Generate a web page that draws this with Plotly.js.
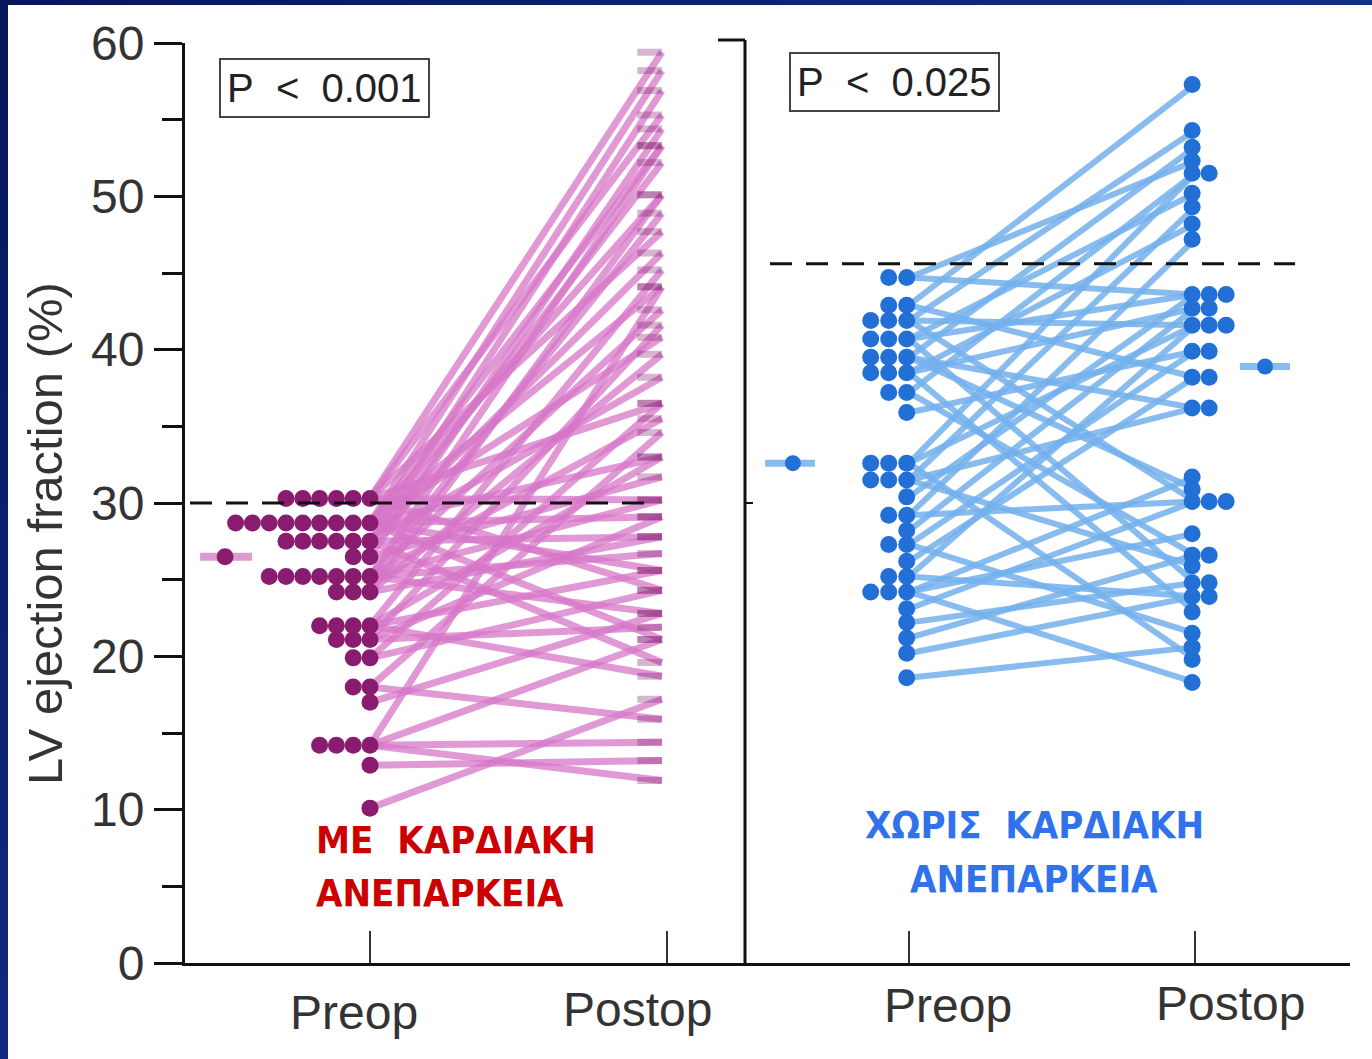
<!DOCTYPE html>
<html><head><meta charset="utf-8">
<script src="https://cdn.plot.ly/plotly-3.0.1.min.js"></script>
<style>
html,body{margin:0;padding:0;width:1372px;height:1059px;overflow:hidden;background:linear-gradient(135deg,#06165a 0%,#12308c 60%,#1b3fa6 100%);}
#chart{position:absolute;left:8px;top:5px;width:1364px;height:1054px;background:#fff;}
</style></head><body><div id="chart"></div>
<script>
// ---------------- data ----------------
const xLabels = ['Preop', 'Postop'];
const yTitle = 'LV ejection fraction (%)';
const yTicks = [0, 10, 20, 30, 40, 50, 60];

// left panel: with heart failure (each index = one patient)
const leftPre = [30.3,30.3,30.3,30.3,30.3,30.3,
  28.7,28.7,28.7,28.7,28.7,28.7,28.7,28.7,28.7,
  27.5,27.5,27.5,27.5,27.5,27.5,
  26.5,26.5,
  25.2,25.2,25.2,25.2,25.2,25.2,25.2,
  24.2,24.2,24.2,
  22.0,22.0,22.0,22.0,
  21.1,21.1,21.1,
  19.9,19.9,
  18.0,18.0,
  17.0,
  14.2,14.2,14.2,14.2,
  12.9,
  10.1];
const leftPost = [59.4,55.3,47.7,36.5,30.2,24.3,
  58.2,53.3,50.1,44.1,40.8,33.0,29.1,25.6,21.1,
  56.9,52.2,46.3,38.2,27.8,19.6,
  54.4,31.7,
  53.3,48.9,42.6,35.5,30.2,26.7,22.8,
  50.1,39.7,27.8,
  45.2,33.0,25.6,18.7,
  41.6,29.1,21.9,
  36.5,24.3,
  34.6,15.9,
  22.8,
  44.1,21.1,14.4,11.9,
  13.2,
  17.2];
const leftMeanPre = 26.5;
const leftThreshold = 30;
const leftP = 'P < 0.001';
const leftGroup = ['ΜΕ  ΚΑΡΔΙΑΚΗ', 'ΑΝΕΠΑΡΚΕΙΑ'];

// right panel: without heart failure
const rightPre = [44.7,44.7,42.9,42.9,41.9,41.9,41.9,40.7,40.7,40.7,39.5,39.5,39.5,38.5,38.5,38.5,37.2,37.2,35.9,
  32.6,32.6,32.6,31.5,31.5,31.5,30.4,29.2,29.2,28.2,27.3,27.3,26.2,25.2,25.2,24.2,24.2,24.2,23.1,22.2,21.2,20.2,18.6];
const rightPost = [52.3,43.6,57.3,38.2,54.3,41.6,30.1,50.2,43.6,24.8,53.2,36.2,30.9,48.2,42.7,22.9,51.5,26.6,39.9,
  51.5,41.6,19.8,49.3,36.2,25.9,43.6,47.2,30.1,42.7,39.9,21.5,38.2,41.6,23.9,31.7,28.0,18.3,30.1,24.8,26.6,23.9,20.6];
const rightMeanPre = 32.6;
const rightMeanPost = 38.9;
const rightThreshold = 45.6;
const rightP = 'P < 0.025';
const rightGroup = ['ΧΩΡΙΣ  ΚΑΡΔΙΑΚΗ', 'ΑΝΕΠΑΡΚΕΙΑ'];

// ---------------- geometry ----------------
const PLOT_W = 1165, PLOT_H = 920;
const SPLIT = 560 / PLOT_W;
const L_PX = 297, R_PX = 286;            // px per category step
const L_RANGE = [-185 / L_PX, 375 / L_PX];
const R_RANGE = [-164 / R_PX, 441 / R_PX];
const DOT = 17;
const LEFT_END = 0.983, LEFT_FADE = 0.90;

const C_LDOT = 'rgb(138,28,112)', C_LLINE = 'rgba(214,118,200,0.74)', C_LEND = 'rgba(128,30,108,0.33)';
const C_RDOT = 'rgb(34,112,214)', C_RLINE = 'rgba(115,176,236,0.85)';

function segs(pre, post, x0, x1) {
  const x = [], y = [];
  pre.forEach((v, i) => { x.push(x0, x1, null); y.push(v, post[i], null); });
  return {x, y};
}
function dots(values, base, step, dir) {
  const counts = {}, x = [], y = [];
  values.forEach(v => {
    const k = v.toFixed(1); const n = counts[k] || 0; counts[k] = n + 1;
    x.push(base + dir * n * step); y.push(v);
  });
  return {x, y};
}

const traces = [];
// left lines
const ll = segs(leftPre, leftPost, 0, LEFT_END);
traces.push({x: ll.x, y: ll.y, mode: 'lines', line: {color: C_LLINE, width: 7}, xaxis: 'x', yaxis: 'y'});
const le = segs(leftPost, leftPost, LEFT_FADE, LEFT_END);
traces.push({x: le.x, y: le.y, mode: 'lines', line: {color: C_LEND, width: 7}, xaxis: 'x', yaxis: 'y'});
// left dots
const ld = dots(leftPre, 0, 16.8 / L_PX, -1);
traces.push({x: ld.x, y: ld.y, mode: 'markers', marker: {color: C_LDOT, size: DOT, line: {width: 0}}, xaxis: 'x', yaxis: 'y'});
// left threshold
traces.push({x: [-0.606, 0.96], y: [leftThreshold, leftThreshold], mode: 'lines', line: {color: '#111', width: 3, dash: '22px,14px'}, xaxis: 'x', yaxis: 'y'});
// left mean
traces.push({x: [-0.572, -0.397], y: [leftMeanPre, leftMeanPre], mode: 'lines', line: {color: 'rgba(214,130,200,0.8)', width: 8}, xaxis: 'x', yaxis: 'y'});
traces.push({x: [-0.488], y: [leftMeanPre], mode: 'markers', marker: {color: C_LDOT, size: DOT, line: {width: 0}}, xaxis: 'x', yaxis: 'y'});

// right lines
const rl = segs(rightPre, rightPost, 0, 1);
traces.push({x: rl.x, y: rl.y, mode: 'lines', line: {color: C_RLINE, width: 6}, xaxis: 'x2', yaxis: 'y'});
// right threshold
traces.push({x: [-0.486, 1.35], y: [rightThreshold, rightThreshold], mode: 'lines', line: {color: '#111', width: 3, dash: '22px,14px'}, xaxis: 'x2', yaxis: 'y'});
// right dots
const rd1 = dots(rightPre, -0.008, 18 / R_PX, -1);
traces.push({x: rd1.x, y: rd1.y, mode: 'markers', marker: {color: C_RDOT, size: DOT, line: {width: 0}}, xaxis: 'x2', yaxis: 'y'});
const rd2 = dots(rightPost, 0.99, 17 / R_PX, 1);
traces.push({x: rd2.x, y: rd2.y, mode: 'markers', marker: {color: C_RDOT, size: DOT, line: {width: 0}}, xaxis: 'x2', yaxis: 'y'});
// right means
traces.push({x: [-0.503, -0.329], y: [rightMeanPre, rightMeanPre], mode: 'lines', line: {color: C_RLINE, width: 7}, xaxis: 'x2', yaxis: 'y'});
traces.push({x: [1.157, 1.332], y: [rightMeanPost, rightMeanPost], mode: 'lines', line: {color: C_RLINE, width: 7}, xaxis: 'x2', yaxis: 'y'});
traces.push({x: [-0.406, 1.245], y: [rightMeanPre, rightMeanPost], mode: 'markers', marker: {color: C_RDOT, size: 16, line: {width: 0}}, xaxis: 'x2', yaxis: 'y'});

const FONT = 'Liberation Sans, Arial, Helvetica, sans-serif';
const NARROW = 'Liberation Sans Narrow, Arial Narrow, DejaVu Sans Condensed, sans-serif';
const fmtP = s => s.replace('<', '&lt;').replace(/ /g, '\u00a0\u00a0');

const xCommon = {
  showline: true, linewidth: 3, linecolor: '#111', ticks: 'inside', tickvals: [0, 1],
  ticklen: 32, tickwidth: 2, tickcolor: '#333', showticklabels: false, zeroline: false,
  showgrid: false, fixedrange: true, anchor: 'y'
};

const annotations = [
  // y axis title
  {xref: 'paper', yref: 'paper', x: (45 - 185) / PLOT_W, y: (963 - 534) / PLOT_H, xanchor: 'center', yanchor: 'middle', textangle: -90,
   text: yTitle, showarrow: false, font: {size: 49, color: '#333', family: FONT}},
  // x category labels
  {xref: 'x', yref: 'paper', x: 0, y: -0.0533, text: xLabels[0], xshift: -16, showarrow: false, yanchor: 'middle', font: {size: 48, color: '#333', family: FONT}},
  {xref: 'x', yref: 'paper', x: 1, y: -0.0510, text: xLabels[1], xshift: -30, showarrow: false, yanchor: 'middle', font: {size: 48, color: '#333', family: FONT}},
  {xref: 'x2', yref: 'paper', x: 0, y: -0.0457, text: xLabels[0], xshift: 39, showarrow: false, yanchor: 'middle', font: {size: 48, color: '#333', family: FONT}},
  {xref: 'x2', yref: 'paper', x: 1, y: -0.0435, text: xLabels[1], xshift: 35, showarrow: false, yanchor: 'middle', font: {size: 48, color: '#333', family: FONT}},
  // P boxes
  {xref: 'paper', yref: 'paper', x: 34 / PLOT_W, y: (963 - 58) / PLOT_H, xanchor: 'left', yanchor: 'top', text: fmtP(leftP), showarrow: false,
   font: {size: 40, color: '#222', family: FONT}, bordercolor: '#444', borderwidth: 2, borderpad: 6, bgcolor: '#fff'},
  {xref: 'paper', yref: 'paper', x: 604 / PLOT_W, y: (963 - 52) / PLOT_H, xanchor: 'left', yanchor: 'top', text: fmtP(rightP), showarrow: false,
   font: {size: 40, color: '#222', family: FONT}, bordercolor: '#444', borderwidth: 2, borderpad: 6, bgcolor: '#fff'},
  // group labels
  {xref: 'paper', yref: 'paper', x: 129 / PLOT_W, y: (963 - 840) / PLOT_H, xanchor: 'left', yanchor: 'middle', text: leftGroup[0].replace(/  /g, '\u00a0\u00a0'), showarrow: false,
   font: {size: 38, color: '#cc0000', family: NARROW, weight: 'bold'}},
  {xref: 'paper', yref: 'paper', x: 129 / PLOT_W, y: (963 - 893) / PLOT_H, xanchor: 'left', yanchor: 'middle', text: leftGroup[1], showarrow: false,
   font: {size: 38, color: '#cc0000', family: NARROW, weight: 'bold'}},
  {xref: 'paper', yref: 'paper', x: 849 / PLOT_W, y: (963 - 825) / PLOT_H, xanchor: 'center', yanchor: 'middle', text: rightGroup[0].replace(/  /g, '\u00a0\u00a0'), showarrow: false,
   font: {size: 38, color: '#2f72ec', family: NARROW, weight: 'bold'}},
  {xref: 'paper', yref: 'paper', x: 849 / PLOT_W, y: (963 - 879) / PLOT_H, xanchor: 'center', yanchor: 'middle', text: rightGroup[1], showarrow: false,
   font: {size: 38, color: '#2f72ec', family: NARROW, weight: 'bold'}}
];

const shapes = [
  {type: 'line', xref: 'paper', yref: 'paper', x0: SPLIT, x1: SPLIT, y0: 0, y1: 1 + 3 / PLOT_H, line: {color: '#111', width: 3}},
  {type: 'line', xref: 'paper', yref: 'paper', x0: (718 - 185) / PLOT_W, x1: SPLIT, y0: 1 + 3 / PLOT_H, y1: 1 + 3 / PLOT_H, line: {color: '#111', width: 3}},
  {type: 'line', xref: 'paper', yref: 'y', x0: SPLIT, x1: (753 - 185) / PLOT_W, y0: 30, y1: 30, line: {color: '#111', width: 2}}
];

const layout = {
  width: 1364, height: 1054,
  margin: {l: 177, r: 22, t: 38, b: 96, pad: 0},
  paper_bgcolor: '#fff', plot_bgcolor: 'rgba(0,0,0,0)',
  showlegend: false, hovermode: false,
  font: {family: FONT, color: '#333'},
  xaxis: Object.assign({}, xCommon, {domain: [0, SPLIT], range: L_RANGE}),
  xaxis2: Object.assign({}, xCommon, {domain: [SPLIT, 1], range: R_RANGE}),
  yaxis: {
    range: [0, 60], domain: [0, 1], showline: true, linewidth: 3, linecolor: '#111',
    ticks: 'outside', ticklen: 28, tickwidth: 3, tickcolor: '#111', tickvals: yTicks,
    tickfont: {size: 48, color: '#333', family: FONT}, showgrid: false, zeroline: false, fixedrange: true,
    minor: {ticks: 'outside', dtick: 5, tick0: 0, ticklen: 20, tickwidth: 3, tickcolor: '#111', showgrid: false},
    title: {text: ''}
  },
  annotations, shapes
};

Plotly.newPlot('chart', traces, layout, {staticPlot: true, displayModeBar: false});
</script></body></html>
